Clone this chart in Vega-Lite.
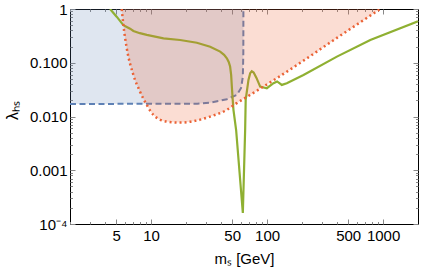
{
  "$schema": "https://vega.github.io/schema/vega-lite/v6.json",
  "width": 348,
  "height": 215,
  "autosize": {"type": "none"},
  "padding": {"left": 70, "top": 9, "right": 3, "bottom": 48},
  "background": "white",
  "config": {
    "view": {"stroke": "black", "strokeWidth": 1},
    "font": "Liberation Sans",
    "axis": {"grid": false, "domain": false, "tickColor": "#888888", "tickWidth": 1, "labelFont": "Liberation Sans", "titleFont": "Liberation Sans", "labelColor": "black", "titleColor": "black", "titleFontWeight": "normal"}
  },
  "datasets": {
    "blue": [
      {"i": 0, "m": 2, "lam": 0.0171},
      {"i": 1, "m": 25, "lam": 0.0173},
      {"i": 2, "m": 32.3, "lam": 0.0181},
      {"i": 3, "m": 45, "lam": 0.021},
      {"i": 4, "m": 54.8, "lam": 0.0252},
      {"i": 5, "m": 59.7, "lam": 0.034},
      {"i": 6, "m": 61.8, "lam": 0.055},
      {"i": 7, "m": 62.4, "lam": 0.15},
      {"i": 8, "m": 62.5, "lam": 1}
    ],
    "red": [
      {"i": 0, "m": 5.58, "lam": 1},
      {"i": 1, "m": 5.77, "lam": 0.504},
      {"i": 2, "m": 6.17, "lam": 0.186},
      {"i": 3, "m": 7.04, "lam": 0.0593},
      {"i": 4, "m": 8.03, "lam": 0.029},
      {"i": 5, "m": 9.18, "lam": 0.0164},
      {"i": 6, "m": 10.48, "lam": 0.0107},
      {"i": 7, "m": 13.66, "lam": 0.00804},
      {"i": 8, "m": 17.8, "lam": 0.0077},
      {"i": 9, "m": 24, "lam": 0.0083},
      {"i": 10, "m": 32.3, "lam": 0.00996},
      {"i": 11, "m": 45, "lam": 0.0133},
      {"i": 12, "m": 54.8, "lam": 0.0177},
      {"i": 13, "m": 71.4, "lam": 0.0252},
      {"i": 14, "m": 93, "lam": 0.036},
      {"i": 15, "m": 121, "lam": 0.0515},
      {"i": 16, "m": 200, "lam": 0.105},
      {"i": 17, "m": 400, "lam": 0.29},
      {"i": 18, "m": 946, "lam": 1}
    ],
    "green": [
      {"i": 0, "m": 4.43, "lam": 1},
      {"i": 1, "m": 5.05, "lam": 0.72},
      {"i": 2, "m": 5.77, "lam": 0.5},
      {"i": 3, "m": 6.59, "lam": 0.43},
      {"i": 4, "m": 7.04, "lam": 0.39},
      {"i": 5, "m": 8.0, "lam": 0.355},
      {"i": 6, "m": 9.18, "lam": 0.33},
      {"i": 7, "m": 12.8, "lam": 0.285},
      {"i": 8, "m": 17.8, "lam": 0.265},
      {"i": 9, "m": 24.8, "lam": 0.236},
      {"i": 10, "m": 32.3, "lam": 0.199},
      {"i": 11, "m": 39.4, "lam": 0.161},
      {"i": 12, "m": 42.6, "lam": 0.14},
      {"i": 13, "m": 45, "lam": 0.121},
      {"i": 14, "m": 46.7, "lam": 0.1035},
      {"i": 15, "m": 48, "lam": 0.085},
      {"i": 16, "m": 49.0, "lam": 0.0593},
      {"i": 17, "m": 49.7, "lam": 0.036},
      {"i": 18, "m": 50.4, "lam": 0.0222},
      {"i": 19, "m": 51.3, "lam": 0.0133},
      {"i": 20, "m": 54.1, "lam": 0.0056},
      {"i": 21, "m": 61.8, "lam": 0.00016},
      {"i": 22, "m": 64.7, "lam": 0.0056},
      {"i": 23, "m": 65.4, "lam": 0.0204},
      {"i": 24, "m": 69.1, "lam": 0.0479},
      {"i": 25, "m": 71.5, "lam": 0.064},
      {"i": 26, "m": 73.8, "lam": 0.0695},
      {"i": 27, "m": 76.6, "lam": 0.066},
      {"i": 28, "m": 81, "lam": 0.0522},
      {"i": 29, "m": 87.2, "lam": 0.036},
      {"i": 30, "m": 99.5, "lam": 0.0336},
      {"i": 31, "m": 113.6, "lam": 0.0416},
      {"i": 32, "m": 122, "lam": 0.0449},
      {"i": 33, "m": 134, "lam": 0.0387},
      {"i": 34, "m": 148, "lam": 0.0416},
      {"i": 35, "m": 206, "lam": 0.0593},
      {"i": 36, "m": 400, "lam": 0.13},
      {"i": 37, "m": 776, "lam": 0.265},
      {"i": 38, "m": 2000, "lam": 0.593}
    ]
  },
  "resolve": {"axis": {"x": "independent", "y": "independent"}},
  "layer": [
    {
      "data": {"name": "blue"},
      "mark": {"type": "area", "color": "#5E81B5", "opacity": 0.2, "clip": true},
      "encoding": {
        "x": {"field": "m", "type": "quantitative", "scale": {"type": "log", "domain": [2, 2000], "nice": false},
          "axis": {"orient": "bottom", "values": [2,3,4,5,6,7,8,9,10,20,30,40,50,60,70,80,90,100,200,300,400,500,600,700,800,900,1000],
            "labelExpr": "indexof([5,10,50,100,500,1000], datum.value) >= 0 ? toString(datum.value) : ''",
            "tickSize": {"condition": {"test": "indexof([5,10,50,100,500,1000], datum.value) >= 0", "value": -5}, "value": -2.5},
            "labelFontSize": 15, "labelPadding": 9, "labelFlush": false, "labelOverlap": false,
            "title": "mₛ [GeV]", "titleFontSize": 15, "titlePadding": 6}},
        "y": {"field": "lam", "type": "quantitative", "scale": {"type": "log", "domain": [0.0001, 1], "nice": false},
          "axis": {"orient": "left", "values": [0.0001,0.0002,0.0003,0.0004,0.0005,0.0006,0.0007,0.0008,0.0009,0.001,0.002,0.003,0.004,0.005,0.006,0.007,0.008,0.009,0.01,0.02,0.03,0.04,0.05,0.06,0.07,0.08,0.09,0.1,0.2,0.3,0.4,0.5,0.6,0.7,0.8,0.9,1],
            "labelExpr": "datum.value === 1 ? '1' : datum.value === 0.1 ? '0.100' : datum.value === 0.01 ? '0.010' : datum.value === 0.001 ? '0.001' : datum.value === 0.0001 ? '10⁻⁴' : ''",
            "tickSize": {"condition": {"test": "indexof([0.0001,0.001,0.01,0.1,1], datum.value) >= 0", "value": -5}, "value": -2.5},
            "labelFontSize": 15, "labelPadding": 8, "labelFlush": false, "labelOverlap": false,
            "title": "λₕₛ", "titleFontSize": 16, "titleX": -58, "titleY": 101, "titleAngle": -90, "titleBaseline": "middle", "titleAlign": "center"}},
        "y2": {"datum": 1}
      }
    },
    {
      "data": {"name": "blue"},
      "mark": {"type": "line", "color": "#5E81B5", "strokeWidth": 2, "strokeDash": [6, 3.5], "clip": true},
      "encoding": {
        "x": {"field": "m", "type": "quantitative", "axis": null},
        "y": {"field": "lam", "type": "quantitative", "axis": null},
        "order": {"field": "i"}
      }
    },
    {
      "data": {"name": "green"},
      "mark": {"type": "line", "color": "#8FB032", "strokeWidth": 2.2, "clip": true},
      "encoding": {
        "x": {"field": "m", "type": "quantitative", "axis": null},
        "y": {"field": "lam", "type": "quantitative", "axis": null},
        "order": {"field": "i"}
      }
    },
    {
      "data": {"name": "red"},
      "mark": {"type": "area", "color": "#EB6235", "opacity": 0.22, "interpolate": "monotone", "clip": true},
      "encoding": {
        "x": {"field": "m", "type": "quantitative",
          "axis": {"orient": "top", "values": [2,3,4,5,6,7,8,9,10,20,30,40,50,60,70,80,90,100,200,300,400,500,600,700,800,900,1000],
            "labels": false, "title": null,
            "tickSize": {"condition": {"test": "indexof([5,10,50,100,500,1000], datum.value) >= 0", "value": -5}, "value": -2.5}}},
        "y": {"field": "lam", "type": "quantitative",
          "axis": {"orient": "right", "values": [0.0001,0.0002,0.0003,0.0004,0.0005,0.0006,0.0007,0.0008,0.0009,0.001,0.002,0.003,0.004,0.005,0.006,0.007,0.008,0.009,0.01,0.02,0.03,0.04,0.05,0.06,0.07,0.08,0.09,0.1,0.2,0.3,0.4,0.5,0.6,0.7,0.8,0.9,1],
            "labels": false, "title": null,
            "tickSize": {"condition": {"test": "indexof([0.0001,0.001,0.01,0.1,1], datum.value) >= 0", "value": -5}, "value": -2.5}}},
        "y2": {"datum": 1}
      }
    },
    {
      "data": {"name": "red"},
      "mark": {"type": "line", "color": "#EB6235", "strokeWidth": 2.5, "strokeDash": [2, 3], "interpolate": "monotone", "clip": true},
      "encoding": {
        "x": {"field": "m", "type": "quantitative", "axis": null},
        "y": {"field": "lam", "type": "quantitative", "axis": null},
        "order": {"field": "i"}
      }
    }
  ]
}
